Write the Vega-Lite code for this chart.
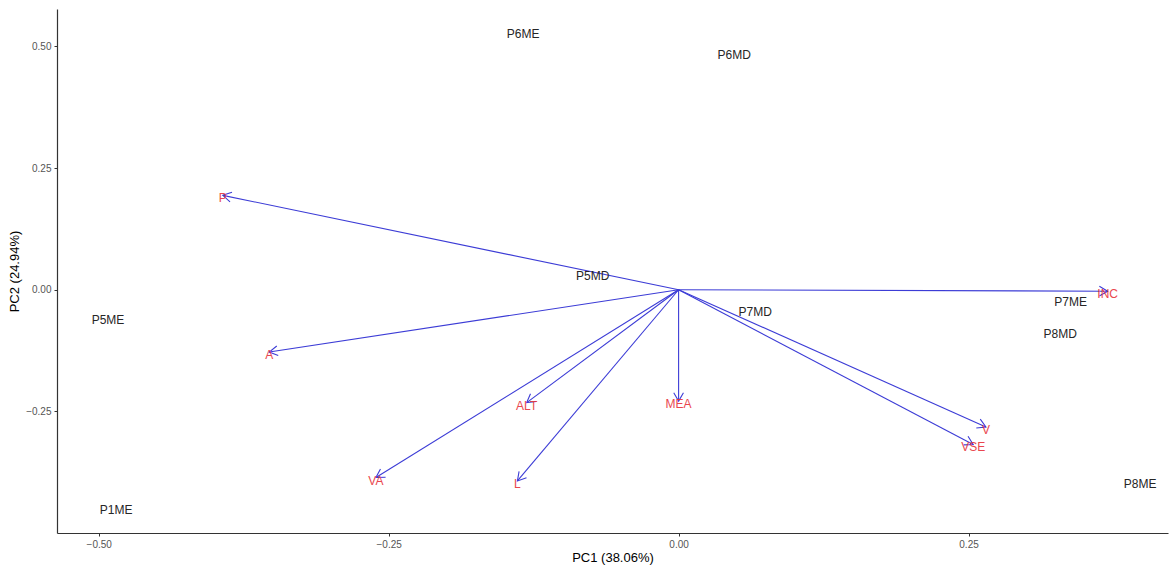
{
  "$schema": "https://vega.github.io/schema/vega-lite/v6.json",
  "autosize": "none",
  "width": 1111,
  "height": 524,
  "padding": {"left": 57, "top": 9, "right": 5, "bottom": 32},
  "background": "white",
  "config": {
    "view": {"stroke": null},
    "font": "Liberation Sans",
    "axis": {
      "grid": false,
      "domainColor": "#333333",
      "domainWidth": 1.2,
      "tickColor": "#333333",
      "tickSize": 3,
      "labelColor": "#555555",
      "labelFontSize": 10,
      "labelFont": "Liberation Sans",
      "titleFont": "Liberation Sans",
      "titleFontWeight": "normal",
      "titleFontSize": 13,
      "titleColor": "#000000"
    }
  },
  "datasets": {
    "vars": [
      {"var": "P", "x": -0.393, "y": 0.194},
      {"var": "A", "x": -0.353, "y": -0.128},
      {"var": "VA", "x": -0.261, "y": -0.386},
      {"var": "ALT", "x": -0.131, "y": -0.232},
      {"var": "L", "x": -0.139, "y": -0.393},
      {"var": "MEA", "x": 0.0, "y": -0.229},
      {"var": "V", "x": 0.265, "y": -0.282},
      {"var": "VSE", "x": 0.254, "y": -0.318},
      {"var": "INC", "x": 0.37, "y": -0.003}
    ],
    "obs": [
      {"obs": "P6ME", "x": -0.134, "y": 0.527},
      {"obs": "P6MD", "x": 0.048, "y": 0.485},
      {"obs": "P5MD", "x": -0.074, "y": 0.031},
      {"obs": "P5ME", "x": -0.492, "y": -0.061},
      {"obs": "P1ME", "x": -0.485, "y": -0.451},
      {"obs": "P7MD", "x": 0.066, "y": -0.044},
      {"obs": "P7ME", "x": 0.338, "y": -0.024},
      {"obs": "P8MD", "x": 0.329, "y": -0.088},
      {"obs": "P8ME", "x": 0.398, "y": -0.398}
    ]
  },
  "encoding": {
    "x": {
      "field": "x", "type": "quantitative",
      "scale": {"domain": [-0.536, 0.422], "nice": false, "zero": false},
      "axis": {"values": [-0.5, -0.25, 0, 0.25], "format": ".2f", "title": "PC1 (38.06%)", "labelPadding": 3, "titlePadding": 2}
    },
    "y": {
      "field": "y", "type": "quantitative",
      "scale": {"domain": [-0.5, 0.577], "nice": false, "zero": false},
      "axis": {"values": [-0.25, 0, 0.25, 0.5], "format": ".2f", "title": "PC2 (24.94%)", "labelPadding": 3, "titlePadding": 4}
    }
  },
  "layer": [
    {
      "data": {"name": "vars"},
      "mark": {"type": "rule", "color": "#3c3cd6", "strokeWidth": 1.1},
      "encoding": {
        "x": {"datum": 0, "type": "quantitative"},
        "y": {"datum": 0, "type": "quantitative"},
        "x2": {"field": "x"},
        "y2": {"field": "y"}
      }
    },
    {
      "data": {"name": "vars"},
      "transform": [
        {"calculate": "(atan2(-datum.y * 487, datum.x * 1160) * 180 / PI + 360) % 360", "as": "ang"}
      ],
      "mark": {
        "type": "point",
        "shape": "M -1 -0.58 L 0 0 L -1 0.58",
        "filled": false,
        "stroke": "#3c3cd6",
        "strokeWidth": 1.1,
        "opacity": 1,
        "size": 280
      },
      "encoding": {
        "angle": {"field": "ang", "type": "quantitative", "scale": null}
      }
    },
    {
      "data": {"name": "vars"},
      "mark": {"type": "text", "color": "#e8333b", "fontSize": 12, "baseline": "middle", "align": "center", "dy": 3, "opacity": 0.9},
      "encoding": {"text": {"field": "var"}}
    },
    {
      "data": {"name": "obs"},
      "mark": {"type": "text", "color": "#262626", "fontSize": 12, "baseline": "middle", "align": "center", "dy": 1},
      "encoding": {"text": {"field": "obs"}}
    }
  ]
}
